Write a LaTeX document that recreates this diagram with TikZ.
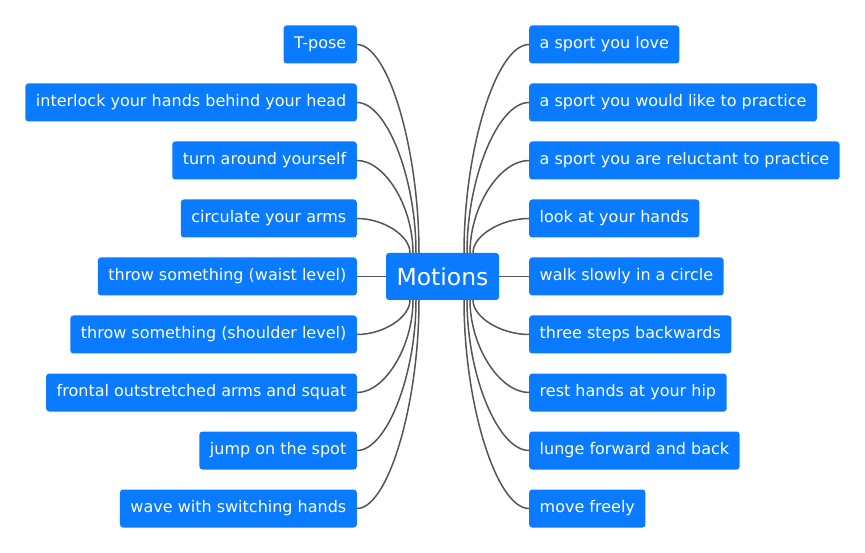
\documentclass[tikz,border=0pt]{standalone}
\usepackage{fontspec}
\setmainfont{DejaVu Sans}
\usepackage{tikz}
\usetikzlibrary{positioning, calc}
\definecolor{boxblue}{HTML}{0A7AFF}
\definecolor{wire}{HTML}{555555}

\begin{document}
\begin{tikzpicture}[
      x=1pt, y=-1pt,
      item/.style={rectangle, fill=boxblue, rounded corners=3pt, text=white,
                   minimum height=38pt, inner xsep=10.5pt,
                   font=\fontsize{16}{19}\selectfont},
      hub/.style={rectangle, fill=boxblue, rounded corners=3pt, text=white,
                  minimum height=47pt, minimum width=113pt,
                  font=\fontsize{23.5}{28}\selectfont},
      link/.style={draw=wire, line width=1.5pt},
      branch/.style={to path={.. controls ($(\tikztostart)!0.5!(\tikztostart|-\tikztotarget)$)
                     and ($(\tikztotarget)!0.5!(\tikztostart|-\tikztotarget)$) .. (\tikztotarget)}}
    ]
    \useasboundingbox (0,0) rectangle (865,553);

    % Centre
    \node[hub] (hub) at (442.5,276.5) {Motions};

    % Left branches
    \node[item, anchor=east] (tpose) at (357,44.5) {T-pose};
    \node[item, anchor=east] (interlock) at (357,102.5) {interlock your hands behind your head};
    \node[item, anchor=east] (turn) at (357,160.5) {turn around yourself};
    \node[item, anchor=east] (circulate) at (357,218.5) {circulate your arms};
    \node[item, anchor=east] (waist) at (357,276.5) {throw something (waist level)};
    \node[item, anchor=east] (shoulder) at (357,334.5) {throw something (shoulder level)};
    \node[item, anchor=east] (squat) at (357,392.5) {frontal outstretched arms and squat};
    \node[item, anchor=east] (jump) at (357,450.5) {jump on the spot};
    \node[item, anchor=east] (wave) at (357,508.5) {wave with switching hands};

    % Right branches
    \node[item, anchor=west] (love) at (529,44.5) {a sport you love};
    \node[item, anchor=west] (like) at (529,102.5) {a sport you would like to practice};
    \node[item, anchor=west] (reluctant) at (529,160.5) {a sport you are reluctant to practice};
    \node[item, anchor=west] (hands) at (529,218.5) {look at your hands};
    \node[item, anchor=west] (walk) at (529,276.5) {walk slowly in a circle};
    \node[item, anchor=west] (backwards) at (529,334.5) {three steps backwards};
    \node[item, anchor=west] (hip) at (529,392.5) {rest hands at your hip};
    \node[item, anchor=west] (lunge) at (529,450.5) {lunge forward and back};
    \node[item, anchor=west] (freely) at (529,508.5) {move freely};

    % start points on the hub
    \coordinate (lt1) at ([xshift=-32.5pt]hub.north);
    \coordinate (lt2) at ([xshift=-29.5pt]hub.north);
    \coordinate (lt3) at ([xshift=-26.5pt]hub.north);
    \coordinate (lt4) at ([xshift=-23.5pt]hub.north);
    \coordinate (lb1) at ([xshift=-32.5pt]hub.south);
    \coordinate (lb2) at ([xshift=-29.5pt]hub.south);
    \coordinate (lb3) at ([xshift=-26.5pt]hub.south);
    \coordinate (lb4) at ([xshift=-23.5pt]hub.south);
    \coordinate (rt1) at ([xshift=30.5pt]hub.north);
    \coordinate (rt2) at ([xshift=27.5pt]hub.north);
    \coordinate (rt3) at ([xshift=24.5pt]hub.north);
    \coordinate (rt4) at ([xshift=21.5pt]hub.north);
    \coordinate (rb1) at ([xshift=30.5pt]hub.south);
    \coordinate (rb2) at ([xshift=27.5pt]hub.south);
    \coordinate (rb3) at ([xshift=24.5pt]hub.south);
    \coordinate (rb4) at ([xshift=21.5pt]hub.south);

    \draw[link] (lt4) to[branch] (tpose.east);
    \draw[link] (lt3) to[branch] (interlock.east);
    \draw[link] (lt2) to[branch] (turn.east);
    \draw[link] (lt1) to[branch] (circulate.east);
    \draw[link] (hub.west) -- (waist.east);
    \draw[link] (lb1) to[branch] (shoulder.east);
    \draw[link] (lb2) to[branch] (squat.east);
    \draw[link] (lb3) to[branch] (jump.east);
    \draw[link] (lb4) to[branch] (wave.east);

    \draw[link] (rt4) to[branch] (love.west);
    \draw[link] (rt3) to[branch] (like.west);
    \draw[link] (rt2) to[branch] (reluctant.west);
    \draw[link] (rt1) to[branch] (hands.west);
    \draw[link] (hub.east) -- (walk.west);
    \draw[link] (rb1) to[branch] (backwards.west);
    \draw[link] (rb2) to[branch] (hip.west);
    \draw[link] (rb3) to[branch] (lunge.west);
    \draw[link] (rb4) to[branch] (freely.west);
  \end{tikzpicture}
\end{document}
